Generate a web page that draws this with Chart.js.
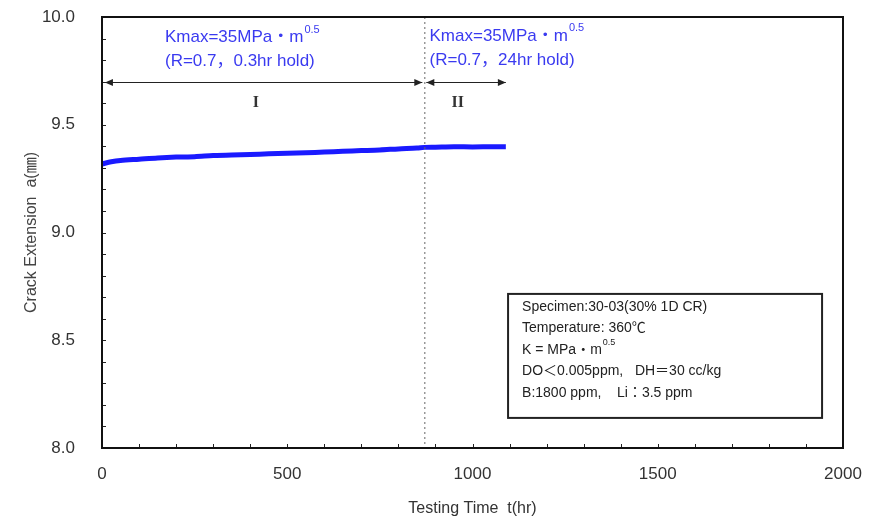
<!DOCTYPE html>
<html>
<head>
<meta charset="utf-8">
<script src="https://cdn.jsdelivr.net/npm/chart.js@4"></script>
<style>
  html, body { margin:0; padding:0; background:#fff; }
  #wrap { width:873px; height:520px; }
</style>
</head>
<body>
<div id="wrap"><canvas id="chart" width="873" height="520"></canvas></div>
<script>
const FONT = '"Liberation Sans", Arial, "Noto Sans CJK JP", sans-serif';

// crack length readings (hr, mm)
const timeHr = [0, 25, 50, 100, 150, 200, 250, 300, 350, 400, 450, 500, 550, 600, 650, 700, 750, 800, 850, 870, 900, 950, 1000, 1050, 1090];
const crackMm = [9.318, 9.328, 9.334, 9.340, 9.346, 9.350, 9.352, 9.357, 9.360, 9.362, 9.365, 9.368, 9.370, 9.373, 9.377, 9.380, 9.383, 9.388, 9.392, 9.395, 9.396, 9.398, 9.397, 9.398, 9.398];

const xTicks = [0, 500, 1000, 1500, 2000];
const yTicks = [8.0, 8.5, 9.0, 9.5, 10.0];

// stage boundaries
const holdChange = 870;
const stageEnd = 1090;
const arrowLevel = 9.70;

const infoLines = [
  "Specimen:30-03(30% 1D CR)",
  "Temperature: 360\u2103",
  "K = MPa\u30FBm",
  "DO\uFF1C0.005ppm,   DH\uFF1D30 cc/kg",
  "B:1800 ppm,    Li\uFF1A3.5 ppm"
];

function arrowHead(ctx, x, y, dir){
  ctx.beginPath();
  ctx.moveTo(x, y);
  ctx.lineTo(x - dir*8, y - 3.5);
  ctx.lineTo(x - dir*8, y + 3.5);
  ctx.closePath();
  ctx.fill();
}

function kmaxLabel(ctx, x, y){
  ctx.font = '17px ' + FONT;
  ctx.fillStyle = '#3a3af0';
  ctx.textBaseline = 'middle';
  ctx.textAlign = 'left';
  const s = 'Kmax=35MPa\u30FBm';
  ctx.fillText(s, x, y);
  const w = ctx.measureText(s).width;
  ctx.font = '11px ' + FONT;
  ctx.fillText('0.5', x + w + 1, y - 8);
}

const decor = {
  id: 'decor',
  afterDatasetsDraw(chart){
    const { ctx, chartArea: a, scales: { x, y } } = chart;
    ctx.save();

    // dashed divider
    const xd = x.getPixelForValue(holdChange);
    ctx.strokeStyle = '#666';
    ctx.lineWidth = 1;
    ctx.setLineDash([2, 3]);
    ctx.beginPath();
    ctx.moveTo(xd + 0.5, a.top);
    ctx.lineTo(xd + 0.5, a.bottom);
    ctx.stroke();
    ctx.setLineDash([]);

    // stage arrows
    const ya = Math.round(y.getPixelForValue(arrowLevel)) + 0.5;
    const x0 = x.getPixelForValue(8), x1 = xd - 2, x2 = xd + 2, x3 = x.getPixelForValue(stageEnd);
    ctx.strokeStyle = '#222';
    ctx.fillStyle = '#222';
    ctx.beginPath();
    ctx.moveTo(x0, ya); ctx.lineTo(x1, ya);
    ctx.moveTo(x2, ya); ctx.lineTo(x3, ya);
    ctx.stroke();
    arrowHead(ctx, x0, ya, -1);
    arrowHead(ctx, x1, ya, 1);
    arrowHead(ctx, x2, ya, -1);
    arrowHead(ctx, x3, ya, 1);

    // stage numerals
    ctx.font = 'bold 16px "Liberation Serif", "DejaVu Serif", serif';
    ctx.fillStyle = '#333';
    ctx.textAlign = 'center';
    ctx.textBaseline = 'middle';
    ctx.fillText('I', x.getPixelForValue(415), y.getPixelForValue(9.60));
    ctx.fillText('II', x.getPixelForValue(960), y.getPixelForValue(9.60));

    // blue condition labels
    kmaxLabel(ctx, x.getPixelForValue(170), y.getPixelForValue(9.905));
    kmaxLabel(ctx, x.getPixelForValue(884), y.getPixelForValue(9.91));
    ctx.font = '17px ' + FONT;
    ctx.textAlign = 'left';
    ctx.fillText('(R=0.7\uFF0C0.3hr hold)', x.getPixelForValue(170), y.getPixelForValue(9.795));
    ctx.fillText('(R=0.7\uFF0C24hr hold)', x.getPixelForValue(884), y.getPixelForValue(9.80));

    // info box
    const bx = x.getPixelForValue(1096), by = y.getPixelForValue(8.715);
    const bw = 314, bh = 124;
    ctx.strokeStyle = '#222';
    ctx.lineWidth = 2;
    ctx.strokeRect(bx, by, bw, bh);
    ctx.font = '14px ' + FONT;
    ctx.fillStyle = '#222';
    ctx.textAlign = 'left';
    infoLines.forEach((t, i) => {
      const ty = by + 13 + i * 21.5;
      ctx.fillText(t, bx + 14, ty);
      if(i === 2){
        const w = ctx.measureText(t).width;
        ctx.font = '9px ' + FONT;
        ctx.fillText('0.5', bx + 14 + w + 1, ty - 7);
        ctx.font = '14px ' + FONT;
      }
    });

    // minor/major ticks pointing inward
    ctx.strokeStyle = '#222';
    ctx.lineWidth = 1;
    ctx.beginPath();
    for(let v = 100; v < 2000; v += 100){
      const px = Math.round(x.getPixelForValue(v)) + 0.5;
      ctx.moveTo(px, a.bottom); ctx.lineTo(px, a.bottom - 4);
    }
    for(let k = 1; k < 20; k++){
      const py = Math.round(y.getPixelForValue(8 + k * 0.1)) + 0.5;
      ctx.moveTo(a.left, py); ctx.lineTo(a.left + 4, py);
    }
    ctx.stroke();

    // frame
    ctx.lineWidth = 2;
    ctx.strokeStyle = '#111';
    ctx.strokeRect(a.left, a.top, a.right - a.left, a.bottom - a.top);
    ctx.restore();
  }
};

new Chart(document.getElementById('chart'), {
  type: 'scatter',
  data: {
    datasets: [{
      data: timeHr.map((t, i) => ({ x: t, y: crackMm[i] })),
      showLine: true,
      borderColor: '#1a1aff',
      borderWidth: 5,
      pointRadius: 0,
      tension: 0.3
    }]
  },
  options: {
    responsive: false,
    animation: false,
    layout: { padding: { top: 17, right: 30, left: 0, bottom: 0 } },
    plugins: { legend: { display: false }, tooltip: { enabled: false } },
    scales: {
      x: {
        type: 'linear', min: 0, max: 2000,
        afterBuildTicks: s => { s.ticks = xTicks.map(v => ({ value: v })); },
        afterFit: s => { s.height = 72; s.paddingLeft = 0; s.paddingRight = 0; },
        grid: { display: false },
        border: { display: false },
        ticks: { font: { size: 17, family: FONT }, color: '#333', padding: 8, callback: v => String(v) },
        title: { display: true, text: 'Testing Time  t(hr)', font: { size: 16, family: FONT }, color: '#333', padding: { top: 0, bottom: 2 } }
      },
      y: {
        type: 'linear', min: 8, max: 10,
        afterBuildTicks: s => { s.ticks = yTicks.map(v => ({ value: v })); },
        afterFit: s => { s.width = 102; s.paddingTop = 0; s.paddingBottom = 0; },
        grid: { display: false },
        border: { display: false },
        ticks: { font: { size: 17, family: FONT }, color: '#333', padding: 19, callback: v => Number(v).toFixed(1) },
        title: { display: true, text: 'Crack Extension  a(\u339C)', font: { size: 16, family: FONT }, color: '#444', padding: { top: 22, bottom: 0 } }
      }
    }
  },
  plugins: [decor]
});
</script>
</body>
</html>
